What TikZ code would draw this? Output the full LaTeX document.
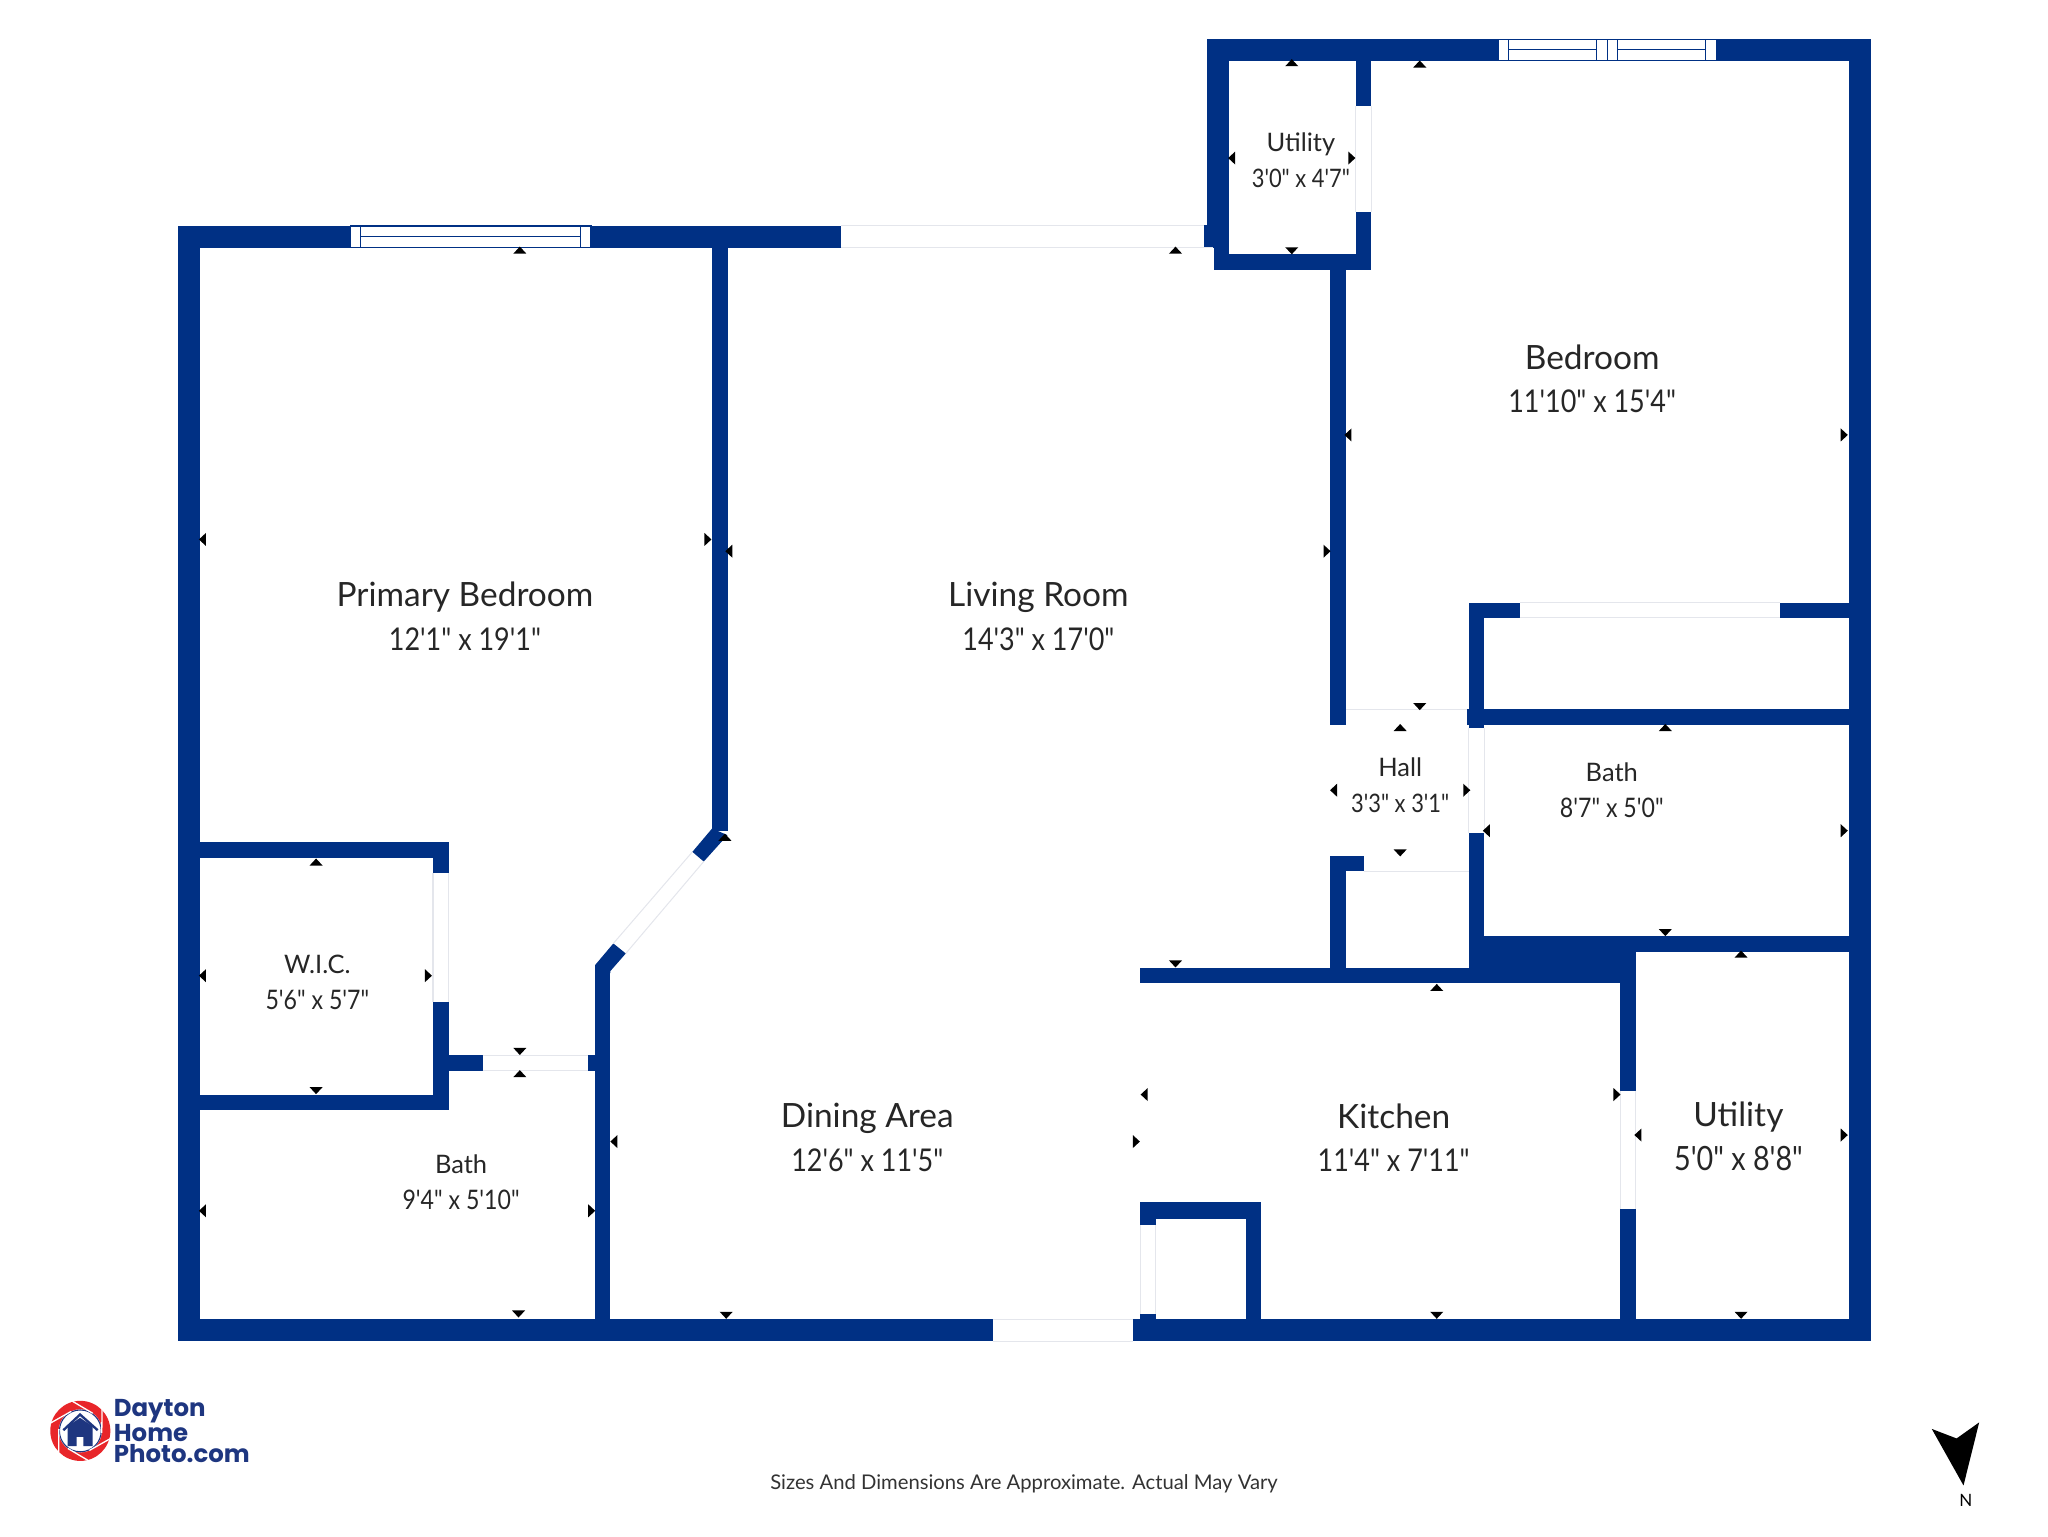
\documentclass[tikz,border=0pt]{standalone}
\usepackage{fontspec}
\usepackage{xcolor}
\usepackage{tikz}
\usetikzlibrary{positioning}
\usetikzlibrary{calc}
\setmainfont{Lato}
\newfontfamily\logofont{Poppins}
% sizes are set narrower, with plain foot and inch marks
\newfontfamily\sizefont{Lato}[FakeStretch=0.86, Ligatures=ResetAll]
\newcommand{\bigdim}[1]{{\sizefont\fontsize{24}{33.5}\selectfont #1}}
\newcommand{\smalldim}[1]{{\sizefont\fontsize{20.6}{27.5}\selectfont #1}}
\definecolor{darkblue}{RGB}{0,48,132}
\definecolor{logoblue}{RGB}{30,54,128}
\definecolor{logored}{RGB}{232,38,42}
\definecolor{doorgray}{RGB}{228,230,236}
\tikzset {
  % solid walls
  wall/.style = {fill=darkblue},
  % openings in the walls
  door/.style = {draw=doorgray, line width=0.8pt},
  windowline/.style = {draw=darkblue, line width=0.9pt},
  % room labels
  main/.style = {align=center, text=black!85, font=\fontsize{25.6}{33.5}\selectfont},
  small/.style = {align=center, text=black!85, font=\fontsize{19.5}{27.5}\selectfont},
  tip/.style = {fill=black},
}
\begin{document}
\begin{tikzpicture}[x=1pt, y=-1pt]
      \useasboundingbox (0,0) rectangle (1568,1176);

      % outer walls
      \fill[wall] (136,173) rectangle (644,189.5);
      \fill[wall] (136,173) rectangle (153,1027);
      \fill[wall] (136,1010) rectangle (760,1027);
      \fill[wall] (867.5,1010) rectangle (1432.5,1027);
      \fill[wall] (1415.5,29.5) rectangle (1432.5,1027);
      \fill[wall] (924,29.5) rectangle (1432.5,46.5);
      \fill[wall] (924,29.5) rectangle (941,190);
      \fill[wall] (929.5,189) rectangle (941,206.5);
      \fill[wall] (922,172) rectangle (930,190);

      % upper utility and bedroom
      \fill[wall] (929.5,194.5) rectangle (1050,206.5);
      \fill[wall] (1038,46) rectangle (1050,81);
      \fill[wall] (1038,162) rectangle (1050,206);
      \fill[wall] (1018.5,200) rectangle (1030.5,555);
      \fill[wall] (1124.5,461.5) rectangle (1163.5,473);
      \fill[wall] (1362.5,461.5) rectangle (1420,473);
      \fill[wall] (1124.5,461.5) rectangle (1136.5,557);
      \fill[wall] (1123,543) rectangle (1420,555);

      % hall, bath and kitchen
      \fill[wall] (1124.5,638) rectangle (1136.5,745);
      \fill[wall] (1018.5,655.5) rectangle (1044,667);
      \fill[wall] (1018.5,655.5) rectangle (1030.5,745);
      \fill[wall] (873,741) rectangle (1240.5,752.5);
      \fill[wall] (1124.5,716.5) rectangle (1420,728.5);
      \fill[wall] (1124.5,728) rectangle (1252.5,752.5);
      \fill[wall] (1240.5,745) rectangle (1252.5,835);
      \fill[wall] (1240.5,926) rectangle (1252.5,1012);
      \fill[wall] (873,920.5) rectangle (965.5,933);
      \fill[wall] (873,920.5) rectangle (885,938);
      \fill[wall] (873,1006) rectangle (885,1012);
      \fill[wall] (954,920.5) rectangle (965.5,1012);

      % primary bedroom side
      \fill[wall] (545,187) rectangle (557,636);
      \fill[wall] (545.2,634.3) -- (530.1,652.2) -- (538.8,659.6) -- (557,639.4) -- cycle;
      \fill[wall] (469.6,722.3) -- (455.6,738.9) -- (455.6,745) -- (467.3,745) -- (467.3,743.5) -- (479.1,730) -- cycle;
      \fill[wall] (455.6,740) rectangle (467.3,1012);
      \fill[wall] (150,645) rectangle (343.5,656.7);
      \fill[wall] (331.5,645) rectangle (343.5,668.7);
      \fill[wall] (331.5,767.5) rectangle (343.5,849.7);
      \fill[wall] (150,838) rectangle (343.5,849.7);
      \fill[wall] (343,807.8) rectangle (369.6,819.6);
      \fill[wall] (450.5,807.8) rectangle (456,819.6);

      % doors
      \draw[door] (644,173) -- (922,173) (644,189.5) -- (929,189.5);
      \draw[door] (1038,81) -- (1038,162) (1050,81) -- (1050,162);
      \draw[door] (1163.5,461.5) -- (1362.5,461.5) (1163.5,473) -- (1362.5,473);
      \draw[door] (1030.5,543) -- (1123,543);
      \draw[door] (1124.5,557) -- (1124.5,638) (1136.5,557) -- (1136.5,638);
      \draw[door] (1044,667) -- (1124.5,667);
      \draw[door] (1240.5,835) -- (1240.5,926) (1252.5,835) -- (1252.5,926);
      \draw[door] (873,938) -- (873,1006) (885,938) -- (885,1006);
      \draw[door] (760,1010) -- (867.5,1010) (760,1027) -- (867.5,1027);
      \draw[door] (331.5,668.7) -- (331.5,767.5) (343.5,668.7) -- (343.5,767.5);
      \draw[door] (369.6,807.8) -- (450.5,807.8) (369.6,819.6) -- (450.5,819.6);
      \draw[door] (530.1,652.2) -- (469.6,722.3) (538.8,659.6) -- (479.1,730);

      % windows
      \filldraw[windowline, fill=white] (268.5,173) rectangle (452.5,189.5);
      \draw[windowline] (276,173) -- (276,189.5) (444.5,173) -- (444.5,189.5) (276,181) -- (444.5,181);
      \filldraw[windowline, fill=white] (1147,30) rectangle (1314,46.5);
      \draw[windowline] (1155,30) -- (1155,46.5) (1222.5,30) -- (1222.5,46.5) (1231,30) -- (1231,46.5);
      \draw[windowline] (1238.5,30) -- (1238.5,46.5) (1306,30) -- (1306,46.5);
      \draw[windowline] (1155,38) -- (1222.5,38) (1238.5,38) -- (1306,38);

      % dimension tips
      \foreach \x/\y in {398/191.5, 900/191.5, 989/48, 1087/49, 1072/557, 1275/557, 1333/730.5, 1100/756, 555/641, 242/660, 398/822}
        \fill[tip] (\x-5,\y+2.7) -- (\x,\y-2.7) -- (\x+5,\y+2.7) -- cycle;
      \foreach \x/\y in {989/192, 1087/541, 1072/653, 1275/714, 900/738, 398/805, 242/835, 397/1006, 556/1007, 1100/1007, 1333/1007}
        \fill[tip] (\x-5,\y-2.7) -- (\x,\y+2.7) -- (\x+5,\y-2.7) -- cycle;
      \foreach \x/\y in {155/413, 558/422, 943/121, 1032/333, 1021/605, 1138/636, 155/747, 155/927, 470/874, 876/838, 1254/869}
        \fill[tip] (\x+2.7,\y-5) -- (\x-2.7,\y) -- (\x+2.7,\y+5) -- cycle;
      \foreach \x/\y in {542/413, 1016/422, 1035/121, 1412/333, 1123/605, 1412/636, 328/747, 453/927, 870/874, 1238/838, 1412/869}
        \fill[tip] (\x-2.7,\y-5) -- (\x+2.7,\y) -- (\x-2.7,\y+5) -- cycle;

      % room labels
      \node[main] (primary) at (356,472) {Primary Bedroom\\\bigdim{12'1" x 19'1"}};
      \node[main] (living) at (795,472) {Living Room\\\bigdim{14'3" x 17'0"}};
      \node[main] (bedroom) at (1219,290) {Bedroom\\\bigdim{11'10" x 15'4"}};
      \node[small] (utility1) at (996,123) {Utility\\{\sizefont 3'0" x 4'7"}};
      \node[small] (hall) at (1072,601) {Hall\\{\sizefont 3'3" x 3'1"}};
      \node[small] (bath1) at (1234,605) {Bath\\\smalldim{8'7" x 5'0"}};
      \node[small] (wic) at (243,752) {W.I.C.\\\smalldim{5'6" x 5'7"}};
      \node[small] (bath2) at (353,905) {Bath\\\smalldim{9'4" x 5'10"}};
      \node[main] (dining) at (664,871) {Dining Area\\\bigdim{12'6" x 11'5"}};
      \node[main] (kitchen) at (1067,871) {Kitchen\\\bigdim{11'4" x 7'11"}};
      \node[main] (utility2) at (1331,870) {Utility\\{\sizefont 5'0" x 8'8"}};

      % footer
      \node[text=black!80, font=\fontsize{15.5}{17}\selectfont] (note) at (784,1136) {Sizes And Dimensions Are Approximate. Actual May Vary};
      \fill[black] (1479,1094) -- (1498,1101.3) -- (1515.3,1089) -- (1503.3,1137.3) -- cycle;
      \node[font=\fontsize{13}{14}\selectfont] (north) at (1505,1149) {N};

      % logo
      \fill[logored] (61.5,1095.5) circle (23);
      \fill[white] (61.5,1095.5) circle (16.5);
      \draw[logoblue, line width=0.8pt] (61.5,1095.5) circle (16);
      \foreach \a in {15,75,...,315}
        \draw[white, line width=1pt] ($(61.5,1095.5)+(\a:23.5)$) -- ($(61.5,1095.5)+(\a+50:16.5)$);
      \fill[logoblue] (51.8,1092) -- (61.3,1085.5) -- (71,1092) -- (71,1107.2) -- (63.8,1107.2) -- (63.8,1100) -- (58.7,1100) -- (58.7,1107.2) -- (51.8,1107.2) -- cycle;
      \draw[logoblue, line width=1.8pt] (48.5,1095) -- (61.3,1083) -- (74.8,1095);
      \node[anchor=north west, inner sep=0pt, align=left, text=logoblue, font=\logofont\bfseries\fontsize{18.7}{15.8}\selectfont] (logo) at (87,1071.5) {Dayton\\Home\\Photo.com};
    \end{tikzpicture}
\end{document}
